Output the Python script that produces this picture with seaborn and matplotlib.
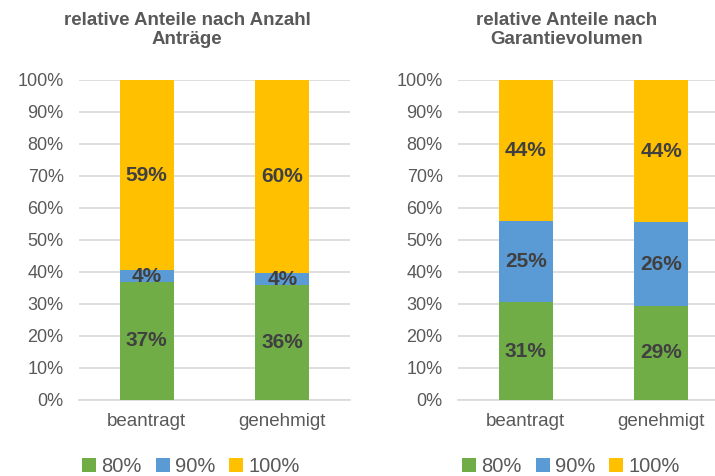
import matplotlib
matplotlib.use("Agg")
import matplotlib.pyplot as plt
from matplotlib.patches import Patch
import seaborn as sns
import pandas as pd

# data (shares in %)
categories = ["beantragt", "genehmigt"]
series_names = ["80%", "90%", "100%"]
anzahl_80 = [36.9, 35.8]
anzahl_90 = [3.7, 4.0]
anzahl_100 = [59.4, 60.2]
volumen_80 = [30.6, 29.4]
volumen_90 = [25.3, 26.2]
volumen_100 = [44.1, 44.4]
titles = ["relative Anteile nach Anzahl\nAnträge", "relative Anteile nach\nGarantievolumen"]

colors = ["#70AD47", "#5B9BD5", "#FFC000"]
grey = "#595959"

sns.set_theme(style="white")
plt.rcParams["font.family"] = ["Liberation Sans", "DejaVu Sans"]

fig = plt.figure(figsize=(7.15, 4.76), dpi=100)
ax1 = fig.add_axes([79 / 715, 1 - 400 / 476, 271 / 715, 320 / 476])
ax2 = fig.add_axes([458 / 715, 1 - 400 / 476, 271 / 715, 320 / 476])

panels = [
    (ax1, [anzahl_80, anzahl_90, anzahl_100]),
    (ax2, [volumen_80, volumen_90, volumen_100]),
]

for ax, layers in panels:
    bottom = [0.0, 0.0]
    for vals, col in zip(layers, colors):
        df = pd.DataFrame({"cat": categories, "val": vals})
        sns.barplot(data=df, x="cat", y="val", color=col, saturation=1,
                    width=0.4, errorbar=None, bottom=bottom, ax=ax, zorder=3,
                    linewidth=0, edgecolor="none")
        bottom = [b + v for b, v in zip(bottom, vals)]
    for cont, vals in zip(ax.containers, layers):
        ax.bar_label(cont, labels=[f"{round(v)}%" for v in vals], label_type="center",
                     fontsize=15, fontweight="bold", color="#404040")
    ax.set_ylim(0, 100)
    ax.set_xlim(-0.5, 1.5)
    ax.set_yticks(range(0, 101, 10))
    ax.set_yticklabels([f"{t}%" for t in range(0, 101, 10)])
    ax.yaxis.grid(True, color="#D9D9D9", linewidth=1.2, zorder=0)
    ax.set_axisbelow(True)
    for s in ["top", "right", "left"]:
        ax.spines[s].set_visible(False)
    ax.spines["bottom"].set_color("#D9D9D9")
    ax.spines["bottom"].set_linewidth(1.2)
    ax.tick_params(axis="y", length=0, pad=11, labelsize=13, labelcolor=grey)
    ax.tick_params(axis="x", length=0, pad=9, labelsize=13.5, labelcolor=grey)
    ax.set_xlabel("")
    ax.set_ylabel("")

handles = [Patch(facecolor=c, edgecolor="none") for c in colors]
for xc, title in zip([187 / 715, 567 / 715], titles):
    fig.text(xc, 1 - 30 / 476, title, ha="center", va="center", fontsize=13.5,
             fontweight="bold", color=grey, linespacing=1.1)
    fig.legend(handles, series_names, loc="center", bbox_to_anchor=(xc + 4 / 715, 0.019),
               ncol=3, frameon=False, fontsize=14.5, labelcolor=grey,
               handlelength=0.7, handleheight=0.7, handletextpad=0.25, columnspacing=0.7)

fig.savefig("out.png", dpi=100)
